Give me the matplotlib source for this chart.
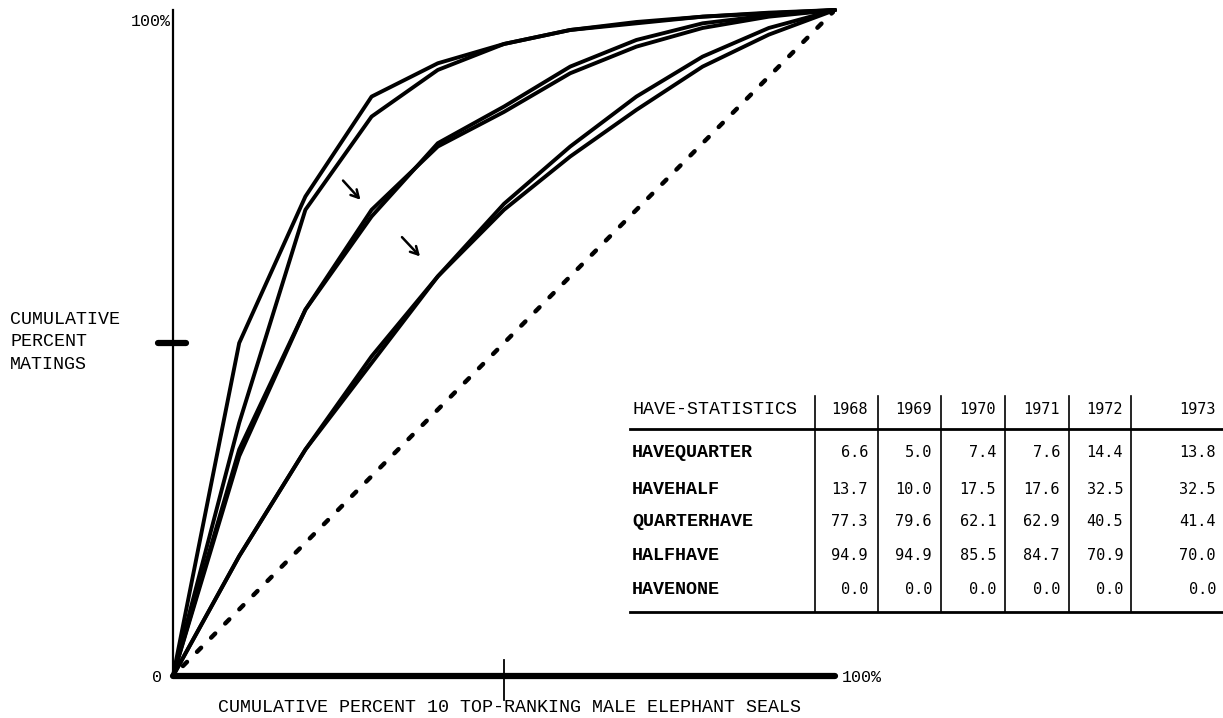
import matplotlib
matplotlib.use("Agg")
import matplotlib.pyplot as plt

W, H = 1223, 718
DPI = 100

# Cumulative share of top-ranking males (deciles) and cumulative share of matings
male_pct = [0, 10, 20, 30, 40, 50, 60, 70, 80, 90, 100]
matings = {
    "1968": [0, 38, 70, 84, 91, 94.9, 97, 98, 99, 99.5, 100],
    "1969": [0, 50, 72, 87, 92, 94.9, 97, 98.2, 99, 99.6, 100],
    "1970": [0, 34, 55, 69, 80, 85.5, 91.5, 95.5, 98, 99.2, 100],
    "1971": [0, 33, 55, 70, 79.5, 84.7, 90.5, 94.5, 97.3, 99, 100],
    "1972": [0, 18, 34, 47, 60, 70.9, 79.5, 87, 93, 97.3, 100],
    "1973": [0, 18, 34, 48, 60, 70.0, 78, 85, 91.5, 96.3, 100],
}

# Summary table
years = ["1968", "1969", "1970", "1971", "1972", "1973"]
stat_names = ["HAVEQUARTER", "HAVEHALF", "QUARTERHAVE", "HALFHAVE", "HAVENONE"]
have_quarter = [6.6, 5.0, 7.4, 7.6, 14.4, 13.8]
have_half = [13.7, 10.0, 17.5, 17.6, 32.5, 32.5]
quarter_have = [77.3, 79.6, 62.1, 62.9, 40.5, 41.4]
half_have = [94.9, 94.9, 85.5, 84.7, 70.9, 70.0]
have_none = [0.0, 0.0, 0.0, 0.0, 0.0, 0.0]
table_rows = [have_quarter, have_half, quarter_have, half_have, have_none]

LABEL_FONT = "Liberation Mono"
NUM_FONT = "DejaVu Sans Mono"


def fx(px):
    return px / W


def fy(py):
    return 1 - py / H


fig = plt.figure(figsize=(W / DPI, H / DPI), dpi=DPI)
fig.patch.set_facecolor("white")

x0, x1 = 173, 835
y0, y1 = 676, 10
ax = fig.add_axes([fx(x0), fy(y0), (x1 - x0) / W, (y0 - y1) / H])
ax.set_xlim(0, 100)
ax.set_ylim(0, 100)
ax.set_xticks([])
ax.set_yticks([])
for s in ["top", "right"]:
    ax.spines[s].set_visible(False)
ax.spines["left"].set_linewidth(1.6)
ax.spines["bottom"].set_linewidth(4.5)
ax.spines["bottom"].set_capstyle("round")
ax.patch.set_alpha(0)

# Equality line
ax.plot([1.5, 100], [1.5, 100], color="black", lw=3.2,
        linestyle=(0, (1.3, 3.2)), dash_capstyle="round", solid_capstyle="round")

# Concentration curves
for yr in years:
    ax.plot(male_pct, matings[yr], color="black", lw=2.8,
            solid_joinstyle="round", solid_capstyle="round", clip_on=False)

# Midpoint marks on both axes
ax.plot([-2.2, 2.0], [50, 50], color="black", lw=4.5, solid_capstyle="round",
        clip_on=False)
ax.plot([50, 50], [-3.6, 2.4], color="black", lw=1.3, clip_on=False)

# Arrows showing the shift between seasons
for (xs, ys), (xe, ye) in [((25.4, 74.7), (28.6, 71.2)),
                           ((34.3, 66.2), (37.6, 62.7))]:
    ax.annotate("", xy=(xe, ye), xytext=(xs, ys),
                arrowprops=dict(arrowstyle="->,head_length=0.55,head_width=0.3",
                                color="black", lw=1.8))

# Axis labels
fig.text(fx(162), fy(677), "0", ha="right", va="center", family=LABEL_FONT,
         fontsize=12)
fig.text(fx(842), fy(677), "100%", ha="left", va="center", family=LABEL_FONT,
         fontsize=12)
fig.text(fx(171), fy(21), "100%", ha="right", va="center", family=LABEL_FONT,
         fontsize=12)
fig.text(fx(510), fy(708), "CUMULATIVE PERCENT 10 TOP-RANKING MALE ELEPHANT SEALS",
         ha="center", va="center", family=LABEL_FONT, fontsize=13.2)
fig.text(fx(10), fy(342), "CUMULATIVE\nPERCENT\nMATINGS", ha="left", va="center",
         family=LABEL_FONT, fontsize=13.2, linespacing=1.45)

# Table
lab_x = 632
dividers = [815, 878, 941, 1005, 1069, 1131]
col_right = [868, 932, 996, 1060, 1123, 1216]
header_y = 410
row_ys = [452, 490, 521, 556, 590]

fig.text(fx(lab_x), fy(header_y), "HAVE-STATISTICS", ha="left", va="center",
         family=LABEL_FONT, fontsize=13.2)
for yr, xr in zip(years, col_right):
    fig.text(fx(xr), fy(header_y), yr, ha="right", va="center",
             family=NUM_FONT, fontsize=11)

for name, vals, ry in zip(stat_names, table_rows, row_ys):
    fig.text(fx(lab_x), fy(ry), name, ha="left", va="center",
             family=LABEL_FONT, fontsize=13.2, fontweight="bold")
    for v, xr in zip(vals, col_right):
        fig.text(fx(xr), fy(ry), f"{v:.1f}", ha="right", va="center",
                 family=NUM_FONT, fontsize=11)

tab = fig.add_axes([0, 0, 1, 1])
tab.set_xlim(0, W)
tab.set_ylim(H, 0)
tab.axis("off")
tab.patch.set_alpha(0)
tab.plot([630, W], [429, 429], color="black", lw=2.0)
tab.plot([630, W], [612, 612], color="black", lw=2.0)
for dx in dividers:
    tab.plot([dx, dx], [396, 612], color="black", lw=1.2)

fig.savefig("out.png", dpi=DPI, facecolor="white")
